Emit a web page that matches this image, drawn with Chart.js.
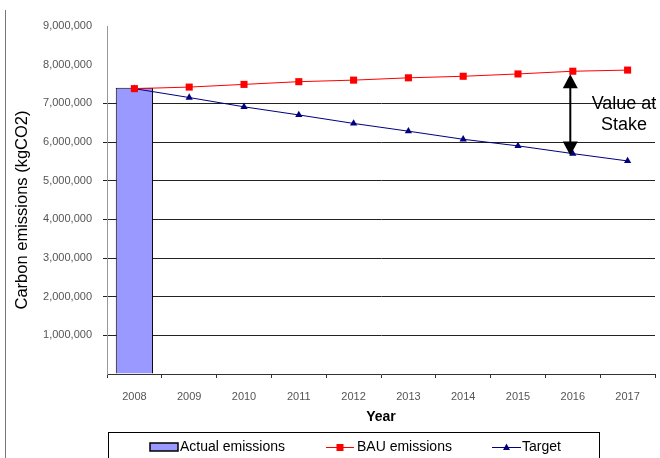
<!DOCTYPE html>
<html>
<head>
<meta charset="utf-8">
<script src="https://cdn.jsdelivr.net/npm/chart.js@4/dist/chart.umd.min.js"></script>
<style>
  html, body { margin: 0; padding: 0; background: #fff; }
  #wrap { width: 660px; height: 458px; }
</style>
</head>
<body>
<div id="wrap"><canvas id="c" width="660" height="458"></canvas></div>
<script>
// Years on the category axis
const years = ['2008', '2009', '2010', '2011', '2012', '2013', '2014', '2015', '2016', '2017'];
// Measured emissions (only the base year is known)
const actualEmissions = [7400000, null, null, null, null, null, null, null, null, null];
// Business-as-usual projection
const bauEmissions = [7380000, 7420000, 7490000, 7560000, 7600000, 7660000, 7700000, 7760000, 7830000, 7860000];
// Reduction target path
const targetEmissions = [7380000, 7150000, 6910000, 6700000, 6480000, 6280000, 6070000, 5900000, 5700000, 5510000];
// Y axis range and the year where the gap is highlighted
const yMin = 0, yMax = 9000000, yStep = 1000000;
const stakeYearIndex = 8;
const stakeLabel = ['Value at', 'Stake'];
const yTitle = 'Carbon emissions (kgCO2)';

const FONT = "'Liberation Sans', Arial, sans-serif";

// Double-headed arrow between BAU and target, plus its caption
const stakeArrow = {
  id: 'stakeArrow',
  afterDatasetsDraw(chart) {
    const { ctx, scales: { x, y } } = chart;
    const px = x.getPixelForValue(stakeYearIndex) - 2.5;
    const yTop = y.getPixelForValue(bauEmissions[stakeYearIndex]) + 3;
    const yBot = y.getPixelForValue(targetEmissions[stakeYearIndex]) + 2;
    const hw = 7.5, hh = 14;
    ctx.save();
    ctx.strokeStyle = '#000';
    ctx.fillStyle = '#000';
    ctx.lineWidth = 2;
    ctx.beginPath();
    ctx.moveTo(px, yTop + hh - 1);
    ctx.lineTo(px, yBot - hh + 1);
    ctx.stroke();
    ctx.beginPath();
    ctx.moveTo(px, yTop);
    ctx.lineTo(px - hw, yTop + hh);
    ctx.lineTo(px + hw, yTop + hh);
    ctx.closePath();
    ctx.fill();
    ctx.beginPath();
    ctx.moveTo(px, yBot);
    ctx.lineTo(px - hw, yBot - hh);
    ctx.lineTo(px + hw, yBot - hh);
    ctx.closePath();
    ctx.fill();
    ctx.font = '18px ' + FONT;
    ctx.textAlign = 'center';
    ctx.textBaseline = 'middle';
    ctx.fillText(stakeLabel[0], 624, 104);
    ctx.fillText(stakeLabel[1], 624, 125);
    ctx.restore();
  }
};

// Boxed legend along the bottom, the left frame edge and the value-axis title
const boxedLegend = {
  id: 'boxedLegend',
  afterDraw(chart) {
    const { ctx } = chart;
    const ds = chart.data.datasets;
    ctx.save();
    // frame edge
    ctx.strokeStyle = '#777';
    ctx.lineWidth = 1;
    ctx.beginPath();
    ctx.moveTo(5.5, 10);
    ctx.lineTo(5.5, 458);
    ctx.stroke();
    // value-axis title
    ctx.save();
    ctx.translate(22, 210);
    ctx.rotate(-Math.PI / 2);
    ctx.font = '16.5px ' + FONT;
    ctx.fillStyle = '#000';
    ctx.textAlign = 'center';
    ctx.textBaseline = 'middle';
    ctx.fillText(yTitle, 0, 0);
    ctx.restore();
    // legend box
    ctx.strokeStyle = '#000';
    ctx.strokeRect(108.5, 432.5, 491, 40);
    const cy = 447.5;
    ctx.font = '14px ' + FONT;
    ctx.textBaseline = 'middle';
    ctx.textAlign = 'left';
    // bar swatch
    ctx.fillStyle = ds[0].backgroundColor;
    ctx.fillRect(150, 443, 28, 8);
    ctx.strokeStyle = '#000';
    ctx.lineWidth = 1.5;
    ctx.strokeRect(150, 443, 28, 8);
    ctx.fillStyle = '#000';
    ctx.fillText(ds[0].label, 180, cy);
    // BAU line + square
    ctx.strokeStyle = ds[1].borderColor;
    ctx.lineWidth = 1;
    ctx.beginPath();
    ctx.moveTo(326, cy); ctx.lineTo(354, cy); ctx.stroke();
    ctx.fillStyle = ds[1].borderColor;
    ctx.fillRect(336.5, cy - 3.5, 7, 7);
    ctx.fillStyle = '#000';
    ctx.fillText(ds[1].label, 357, cy);
    // Target line + triangle
    ctx.strokeStyle = ds[2].borderColor;
    ctx.beginPath();
    ctx.moveTo(492, cy); ctx.lineTo(521, cy); ctx.stroke();
    ctx.fillStyle = ds[2].borderColor;
    ctx.beginPath();
    ctx.moveTo(506.5, cy - 4);
    ctx.lineTo(510, cy + 2.5);
    ctx.lineTo(503, cy + 2.5);
    ctx.closePath();
    ctx.fill();
    ctx.fillStyle = '#000';
    ctx.fillText(ds[2].label, 522, cy);
    ctx.restore();
  }
};

const whiteBg = {
  id: 'whiteBg',
  beforeDraw(chart) {
    const { ctx, width, height } = chart;
    ctx.save();
    ctx.fillStyle = '#fff';
    ctx.fillRect(0, 0, width, height);
    ctx.restore();
  }
};

new Chart(document.getElementById('c'), {
  type: 'bar',
  data: {
    labels: years,
    datasets: [
      {
        label: 'Actual emissions',
        data: actualEmissions,
        backgroundColor: '#9999ff',
        borderColor: '#000',
        borderWidth: 1,
        barPercentage: 0.68,
        categoryPercentage: 1,
        order: 3
      },
      {
        type: 'line',
        label: 'BAU emissions',
        data: bauEmissions,
        borderColor: '#ff0000',
        backgroundColor: '#ff0000',
        borderWidth: 1,
        pointStyle: 'rect',
        pointRadius: 5,
        pointBorderWidth: 0,
        pointHoverRadius: 5,
        tension: 0,
        order: 1
      },
      {
        type: 'line',
        label: 'Target',
        data: targetEmissions,
        borderColor: '#000080',
        backgroundColor: '#000080',
        borderWidth: 1,
        pointStyle: 'triangle',
        pointRadius: 4.2,
        pointBorderWidth: 0,
        pointHoverRadius: 4.2,
        tension: 0,
        order: 2
      }
    ]
  },
  options: {
    responsive: false,
    animation: false,
    events: [],
    layout: { padding: { left: 0, right: 5, top: 26, bottom: 32 } },
    plugins: {
      legend: { display: false },
      tooltip: { enabled: false }
    },
    scales: {
      x: {
        offset: true,
        grid: {
          offset: true,
          drawOnChartArea: false,
          drawTicks: true,
          tickLength: 4,
          color: '#333'
        },
        border: { display: true, color: '#333', width: 1 },
        ticks: {
          color: '#555',
          font: { family: FONT, size: 11 },
          padding: 12,
          maxRotation: 0
        },
        title: {
          display: true,
          text: 'Year',
          color: '#000',
          font: { family: FONT, size: 14, weight: 'bold' },
          padding: { top: 0, bottom: 0 }
        },
        afterFit(scale) { scale.height = 52; }
      },
      y: {
        min: yMin,
        max: yMax,
        ticks: {
          stepSize: yStep,
          color: '#555',
          font: { family: FONT, size: 11 },
          padding: 11,
          callback: (v) => v === 0 ? '' : Number(v).toLocaleString('en-US')
        },
        grid: {
          tickLength: 4,
          lineWidth: 1,
          color: (c) => {
            const v = c.tick ? c.tick.value : 0;
            return (v > 0 && v <= 7000000) ? '#222' : 'rgba(0,0,0,0)';
          }
        },
        border: { display: true, color: '#999', width: 1 },
        title: { display: false },
        afterFit(scale) { scale.width = 107; }
      }
    }
  },
  plugins: [whiteBg, stakeArrow, boxedLegend]
});
</script>
</body>
</html>
